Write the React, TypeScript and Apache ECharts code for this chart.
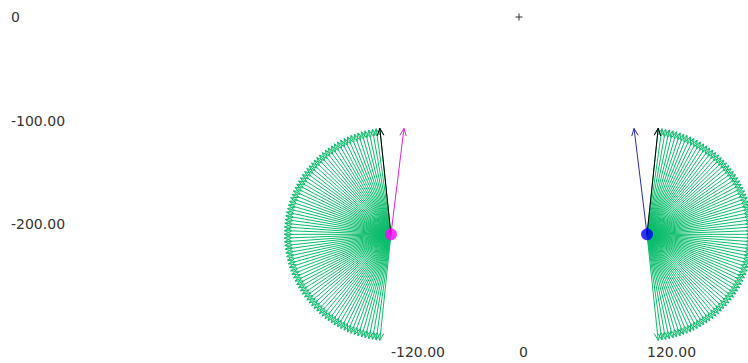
import React, { useEffect, useRef } from "react";
import * as echarts from "echarts";

// ---- data ----
const leftCenter = [-120, -210];
const rightCenter = [120, -210];
const arrowLength = 100;

const leftFanAngles = [
  96, 98, 100, 102, 104, 106, 108, 110, 112, 114, 116, 118, 120, 122, 124, 126, 128, 130,
  132, 134, 136, 138, 140, 142, 144, 146, 148, 150, 152, 154, 156, 158, 160, 162, 164, 166,
  168, 170, 172, 174, 176, 178, 180, 182, 184, 186, 188, 190, 192, 194, 196, 198, 200, 202,
  204, 206, 208, 210, 212, 214, 216, 218, 220, 222, 224, 226, 228, 230, 232, 234, 236, 238,
  240, 242, 244, 246, 248, 250, 252, 254, 256, 258, 260, 262, 264,
];

const rightFanAngles = [
  84, 82, 80, 78, 76, 74, 72, 70, 68, 66, 64, 62, 60, 58, 56, 54, 52, 50,
  48, 46, 44, 42, 40, 38, 36, 34, 32, 30, 28, 26, 24, 22, 20, 18, 16, 14,
  12, 10, 8, 6, 4, 2, 0, -2, -4, -6, -8, -10, -12, -14, -16, -18, -20, -22,
  -24, -26, -28, -30, -32, -34, -36, -38, -40, -42, -44, -46, -48, -50, -52, -54,
  -56, -58, -60, -62, -64, -66, -68, -70, -72, -74, -76, -78, -80, -82, -84,
];

const leftBlackAngle = 96;
const rightBlackAngle = 84;
const magentaAngle = 83;
const blueAngle = 97;

const xTickValues = [-120, 0, 120];
const yTickValues = [0, -100, -200];
const originMarker = [0, 0];

// ---- helpers ----
const fmt = (v: number) => (v === 0 ? "0" : v.toFixed(2));

function arrowRenderer(color: string) {
  return (params: any, api: any) => {
    const c = api.coord([api.value(0), api.value(1)]);
    const ang = (api.value(2) * Math.PI) / 180;
    const len = api.size([api.value(3), 0])[0];
    const ux = Math.cos(ang);
    const uy = -Math.sin(ang);
    const ex = c[0] + len * ux;
    const ey = c[1] + len * uy;
    const headLen = 8;
    const headAng = (24 * Math.PI) / 180;
    const bx = -ux;
    const by = -uy;
    const r1x = bx * Math.cos(headAng) - by * Math.sin(headAng);
    const r1y = bx * Math.sin(headAng) + by * Math.cos(headAng);
    const r2x = bx * Math.cos(-headAng) - by * Math.sin(-headAng);
    const r2y = bx * Math.sin(-headAng) + by * Math.cos(-headAng);
    return {
      type: "group",
      children: [
        {
          type: "line",
          shape: { x1: c[0], y1: c[1], x2: ex, y2: ey },
          style: { stroke: color, lineWidth: 1 },
        },
        {
          type: "polyline",
          shape: {
            points: [
              [ex + r1x * headLen, ey + r1y * headLen],
              [ex, ey],
              [ex + r2x * headLen, ey + r2y * headLen],
            ],
          },
          style: { stroke: color, fill: "none", lineWidth: 1 },
        },
      ],
    };
  };
}

function plusRenderer(params: any, api: any) {
  const c = api.coord([api.value(0), api.value(1)]);
  const h = 3.5;
  return {
    type: "group",
    children: [
      { type: "line", shape: { x1: c[0] - h, y1: c[1], x2: c[0] + h, y2: c[1] }, style: { stroke: "#333", lineWidth: 1 } },
      { type: "line", shape: { x1: c[0], y1: c[1] - h, x2: c[0], y2: c[1] + h }, style: { stroke: "#333", lineWidth: 1 } },
    ],
  };
}

const GREEN = "#0cbd6c";

export default function App() {
  const ref = useRef<HTMLDivElement>(null);
  useEffect(() => {
    document.body.style.margin = "0";
    const chart = echarts.init(ref.current!, null, { renderer: "svg" });
    const fanData = (center: number[], angles: number[]) =>
      angles.map((a) => [center[0], center[1], a, arrowLength]);
    chart.setOption({
      animation: false,
      backgroundColor: "#ffffff",
      grid: { left: 10, right: 0, top: 17, bottom: 27 },
      xAxis: {
        type: "value",
        min: -477,
        max: 214.6,
        axisLine: { show: false },
        axisTick: { show: false },
        splitLine: { show: false },
        axisLabel: {
          customValues: xTickValues,
          formatter: fmt,
          align: "left",
          margin: 9,
          fontFamily: "DejaVu Sans",
          fontSize: 14,
          color: "#333",
        },
      },
      yAxis: {
        type: "value",
        min: -308.2,
        max: 0,
        axisLine: { show: false },
        axisTick: { show: false },
        splitLine: { show: false },
        axisLabel: {
          customValues: yTickValues,
          formatter: fmt,
          inside: true,
          margin: 1,
          fontFamily: "DejaVu Sans",
          fontSize: 14,
          color: "#333",
        },
      },
      series: [
        {
          type: "custom",
          name: "left fan",
          silent: true,
          renderItem: arrowRenderer(GREEN),
          encode: { x: 0, y: 1 },
          data: fanData(leftCenter, leftFanAngles),
          z: 1,
        },
        {
          type: "custom",
          name: "right fan",
          silent: true,
          renderItem: arrowRenderer(GREEN),
          encode: { x: 0, y: 1 },
          data: fanData(rightCenter, rightFanAngles),
          z: 1,
        },
        {
          type: "custom",
          name: "reference",
          silent: true,
          renderItem: arrowRenderer("#000000"),
          encode: { x: 0, y: 1 },
          data: [
            [leftCenter[0], leftCenter[1], leftBlackAngle, arrowLength],
            [rightCenter[0], rightCenter[1], rightBlackAngle, arrowLength],
          ],
          z: 2,
        },
        {
          type: "custom",
          name: "magenta",
          silent: true,
          renderItem: arrowRenderer("#e020e0"),
          encode: { x: 0, y: 1 },
          data: [[leftCenter[0], leftCenter[1], magentaAngle, arrowLength]],
          z: 3,
        },
        {
          type: "custom",
          name: "blue",
          silent: true,
          renderItem: arrowRenderer("#2a2ab8"),
          encode: { x: 0, y: 1 },
          data: [[rightCenter[0], rightCenter[1], blueAngle, arrowLength]],
          z: 3,
        },
        {
          type: "custom",
          name: "origin",
          silent: true,
          renderItem: plusRenderer,
          encode: { x: 0, y: 1 },
          data: [originMarker],
          z: 3,
        },
        {
          type: "scatter",
          silent: true,
          symbolSize: 12,
          data: [
            { value: leftCenter, itemStyle: { color: "#ff00ff" } },
            { value: rightCenter, itemStyle: { color: "#0000ee" } },
          ],
          z: 4,
        },
      ],
    });
    return () => chart.dispose();
  }, []);
  return <div ref={ref} style={{ width: 748, height: 363 }} />;
}
